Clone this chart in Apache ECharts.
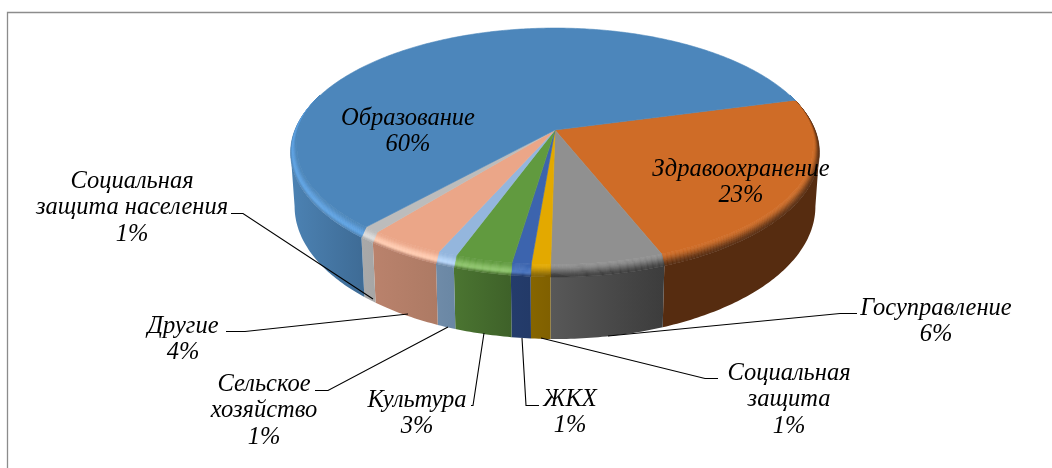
<!DOCTYPE html>
<html><head><meta charset="utf-8">
<style>html,body{margin:0;padding:0;background:#fff}#c{width:1052px;height:468px}</style>
<script src="https://cdn.jsdelivr.net/npm/echarts@6/dist/echarts.min.js"></script>
</head><body><div id="c"></div>
<script>
// Data (shares; the labels show them rounded)
const categories = ['Здравоохранение','Госуправление','Социальная защита','ЖКХ','Культура','Сельское хозяйство','Другие','Социальная защита населения','Образование'];
const percents = [23.49,5.9,1,1,3,1,4,0.85,59.76];

// Label text lines and placement, by category index
const labelLines = [['Здравоохранение'],['Госуправление'],['Социальная','защита'],['ЖКХ'],['Культура'],['Сельское','хозяйство'],['Другие'],['Социальная','защита населения'],['Образование']];
const labelCentres = [[741,169.5],[936,308.5],[789,373.5],[570,399.5],[417,400.5],[264,384.5],[183,326.5],[132,181.5],[408,118.5]];
const leaderLines = [null,
  [[857,313.5],[840,313.5],[608,336]],
  [[718,378.5],[705,378.5],[541,338]],
  [[539,405.5],[526,405.5],[522,338]],
  [[471,405.5],[473,405.5],[484,333]],
  [[315,390.5],[328,390.5],[448,327]],
  [[226,331.5],[245,331.5],[408,314]],
  [[231,213.5],[243,213.5],[373,299]],
  null];

// Shading per slice
const topColors  = ['#cf6c27','#909090','#e3a900','#3c64ae','#619a3f','#94b6dd','#eba688','#bcbcbc','#4c86bb'];
const wallLeft   = ['#562c10','#585858','#866500','#243c6c','#4b7531','#6f8ba8','#ba826c','#a9a9a9','#4c82b3'];
const wallRight  = ['#562c10','#3c3c3c','#806000','#233a68','#3e6129','#6a87a4','#ad7a64','#a6a6a6','#3e6b95'];
const highlights = [null,null,null,'#4a74be','#8cc36a','#b6d6fa','#ffcbb0','#dcdcdc','#5ea2e2'];

// Projection of the pie disc
const CX=555, CY=130, RX=260, RY=120.4, K=-0.181, START=-15;
const BEVEL_STEPS=12;
const BEVEL_RANGES=[[-17.5,197.5],[342.5,557.5]];

const rad=d=>d*Math.PI/180;
function project(deg){
  const c=Math.cos(rad(deg)), s=Math.sin(rad(deg)), d=1+K*s;
  return [CX+RX*c/d, CY+RY*s/d, s];
}
function rimPoint(deg,t){          // t=1 outer rim, t=0 flat edge
  const p=project(deg), s=p[2];
  const side=Math.max(0,Math.min(1,(s+0.3)/0.5));
  const h=(1-t)*side;
  return [CX+(p[0]-CX)*(1-0.024*h), p[1]-(3+9.5*Math.max(s,0))*h*side];
}
function wallPoint(deg){
  const p=project(deg);
  return [CX+(p[0]-CX)*0.985, p[1]+52+10*p[2]];
}
function hex(c){return [1,3,5].map(i=>parseInt(c.substr(i,2),16));}
function mix(a,b,t){const A=hex(a),B=hex(b);return 'rgb('+A.map((v,i)=>Math.round(v+(B[i]-v)*t)).join(',')+')';}
function arc(a0,a1,f){const n=Math.max(2,Math.ceil(Math.abs(a1-a0)/0.75));const r=[];for(let i=0;i<=n;i++)r.push(f(a0+(a1-a0)*i/n));return r;}
function bevelColor(i,t){
  const top=topColors[i], hi=highlights[i], wc=wallRight[i];
  if(!hi) return mix(top,wc,t*t*(3-2*t));
  if(t<0.65) {const u=t/0.65;return mix(top,hi,u*u*(3-2*u));}
  const u=(t-0.65)/0.35;return mix(hi,wallLeft[i],u*u*(3-2*u));
}
const total=percents.reduce((a,b)=>a+b,0);
const startAngles=percents.map((_,i)=>START+360*percents.slice(0,i).reduce((a,b)=>a+b,0)/total);

function renderSlice(params,api){
  const i=params.dataIndex, a0=startAngles[i], a1=a0+360*api.value(1)/total;
  const children=[];
  const style=(fill)=>({fill,stroke:fill,lineWidth:0.6});
  const vis0=Math.max(a0,10.4), vis1=Math.min(a1,169.6);
  if(vis1>vis0){
    const pts=arc(vis0,vis1,d=>{const p=project(d);return [p[0],p[1]];}).concat(arc(vis1,vis0,wallPoint));
    const xs=pts.map(p=>p[0]);
    const fill=new echarts.graphic.LinearGradient(Math.min(...xs),0,Math.max(...xs),0,[{offset:0,color:wallLeft[i]},{offset:1,color:wallRight[i]}],true);
    children.push({type:'polygon',shape:{points:pts},style:{fill,stroke:null},silent:true});
  }
  BEVEL_RANGES.forEach(r=>{
    const b0=Math.max(a0,r[0]), b1=Math.min(a1,r[1]);
    if(b1<=b0) return;
    for(let j=BEVEL_STEPS;j>=1;j--){
      const t=j/BEVEL_STEPS;
      const pts=arc(b0,b1,d=>rimPoint(d,t)).concat(arc(b1,b0,d=>rimPoint(d,t-1/BEVEL_STEPS)));
      children.push({type:'polygon',shape:{points:pts},style:style(bevelColor(i,t-0.5/BEVEL_STEPS)),silent:true});
    }
  });
  const pts=[[CX,CY]].concat(arc(a0,a1,d=>rimPoint(d,0)));
  children.push({type:'polygon',shape:{points:pts},style:style(topColors[i]),silent:true});
  return {type:'group',children};
}
function renderLabel(params,api){
  const i=params.dataIndex, c=labelCentres[i], lines=labelLines[i].concat([Math.round(api.value(1))+'%']);
  const children=[];
  if(leaderLines[i]) children.push({type:'polyline',shape:{points:leaderLines[i]},style:{fill:'none',stroke:'#000',lineWidth:1.1},silent:true});
  lines.forEach((txt,k)=>children.push({type:'text',silent:true,style:{
    text:txt,x:c[0],y:c[1]+k*26.5,align:'center',verticalAlign:'middle',
    font:'italic 24.5px "Liberation Serif"',fill:'#000'}}));
  return {type:'group',children};
}
const seriesData=categories.map((n,i)=>[n,percents[i]]);
const chart=echarts.init(document.getElementById('c'),null,{renderer:'canvas'});
chart.setOption({
  animation:false,backgroundColor:'#fff',
  graphic:{elements:[{type:'polyline',silent:true,z:0,shape:{points:[[7.5,468],[7.5,12.5],[1052,12.5]]},style:{fill:'none',stroke:'#8c8c8c',lineWidth:1.3}}]},
  series:[
    {type:'custom',coordinateSystem:'none',renderItem:renderSlice,data:seriesData,z:2,silent:true},
    {type:'custom',coordinateSystem:'none',renderItem:renderLabel,data:seriesData,z:3,silent:true}
  ]
});
</script></body></html>
